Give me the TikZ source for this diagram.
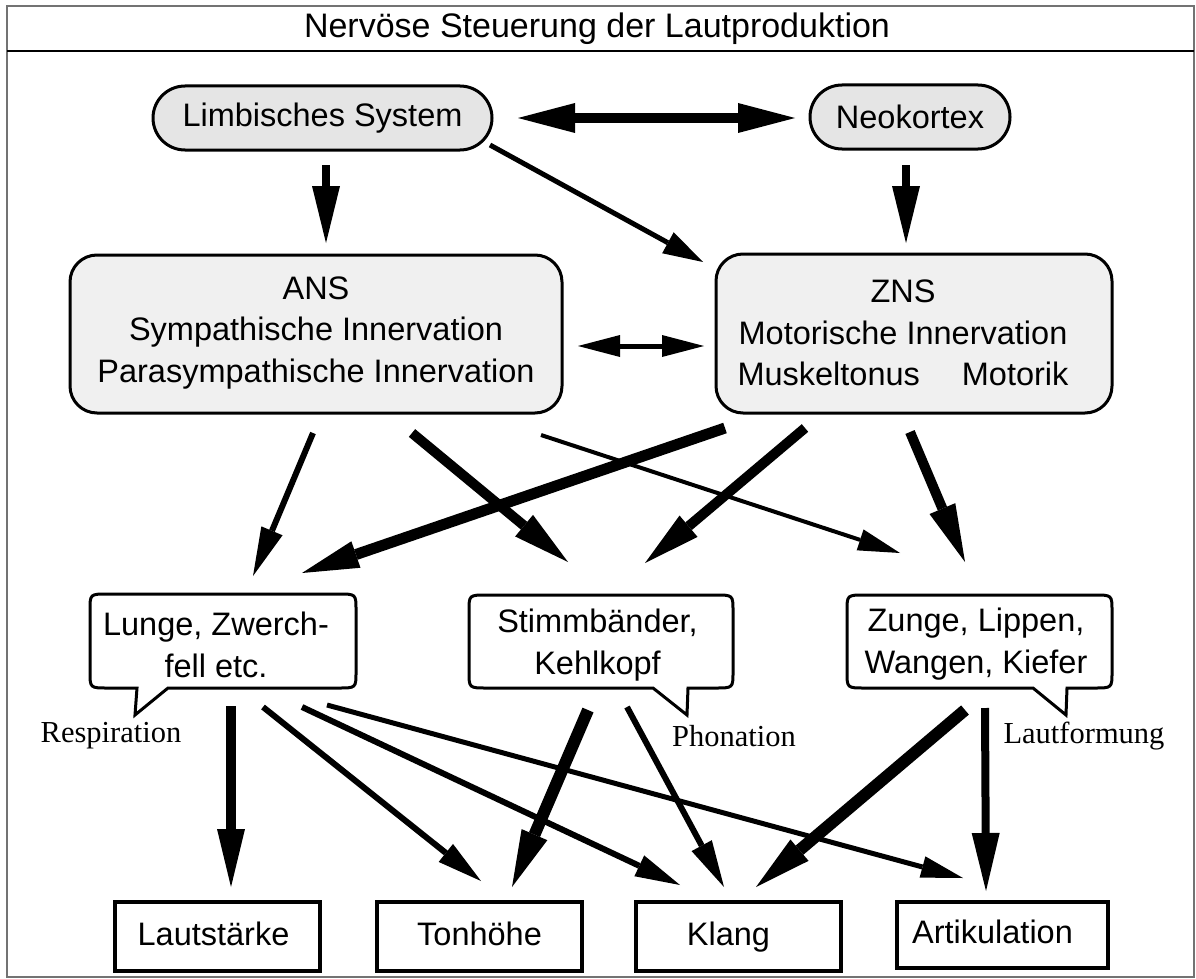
\documentclass[tikz,border=0pt]{standalone}
\usepackage{fontspec}
\setmainfont{Liberation Sans}
\newfontfamily\serifface{Liberation Serif}
\usetikzlibrary{arrows.meta}

\begin{document}
\begin{tikzpicture}[x=1pt,y=-1pt,
  txt/.style={font=\fontsize{32.5}{41.5}\selectfont},
  pill/.style={txt, draw, line width=3pt, fill=black!10, rounded corners=32pt,
    minimum height=64pt, inner sep=0pt},
  system/.style={draw, line width=3pt, fill=black!6, rounded corners=27pt, inner sep=0pt},
  systext/.style={txt, align=center, inner sep=0pt},
  bubbleline/.style={draw, line width=3pt, fill=white, line join=miter},
  bubbletext/.style={txt, align=center, inner sep=0pt},
  role/.style={font=\serifface\fontsize{30.5}{36}\selectfont, inner sep=0pt},
  result/.style={txt, draw, line width=4pt, fill=white, minimum width=205pt,
    minimum height=69pt, inner sep=0pt, text height=24pt, text depth=7pt},
  ar/.style n args={3}{line width=#1pt,
    -{Triangle[length=#2pt,width=#3pt,line width=0pt]}},
  dar/.style n args={3}{line width=#1pt,
    {Triangle[length=#2pt,width=#3pt,line width=0pt]}-{Triangle[length=#2pt,width=#3pt,line width=0pt]}},
]
\useasboundingbox (0,0) rectangle (1196,979);

% frame and title bar
\draw[line width=2pt, black!55] (7,6) rectangle (1194,977);
\draw[line width=2pt] (7,51) -- (1194,51);
\node[font=\fontsize{34}{40}\selectfont] (title) at (597,29) {Nervöse Steuerung der Lautproduktion};

% brain regions
\node[pill, minimum width=339pt] (limb) at (322.5,118) {Limbisches System};
\node[pill, minimum width=200pt] (neo) at (910,117) {Neokortex};

% nervous systems
\node[system, minimum width=492pt, minimum height=158pt] (ans) at (316,334) {};
\node[systext] (anstext) at (316,333) {ANS\\Sympathische Innervation\\Parasympathische Innervation};
\node[system, minimum width=396pt, minimum height=159pt] (zns) at (914,333.5) {};
\node[systext] (znstext) at (903,333) {ZNS\\Motorische Innervation\\\makebox[331pt]{Muskeltonus\hfill Motorik}};

% organs (speech bubbles)
\draw[bubbleline] (137,688) -- (135,715) -- (168,688) -- (338,688)
  .. controls (356,688) .. (356,672) -- (356,610)
  .. controls (356,594) .. (338,594) -- (108,594)
  .. controls (90,594) .. (90,610) -- (90,672)
  .. controls (90,688) .. (108,688) -- cycle;
\node[bubbletext] (lunge) at (216,645) {Lunge, Zwerch-\\fell etc.};

\draw[bubbleline] (653,688) -- (687,715) -- (688,688) -- (715,688)
  .. controls (733,688) .. (733,672) -- (733,611)
  .. controls (733,595) .. (715,595) -- (487,595)
  .. controls (469,595) .. (469,611) -- (469,672)
  .. controls (469,688) .. (487,688) -- cycle;
\node[bubbletext] (stimm) at (597.5,645) {Stimmbänder,\\Kehlkopf};

\draw[bubbleline] (1033,688) -- (1066,715) -- (1067,688) -- (1094,688)
  .. controls (1112,688) .. (1112,672) -- (1112,611)
  .. controls (1112,595) .. (1094,595) -- (865,595)
  .. controls (847,595) .. (847,611) -- (847,672)
  .. controls (847,688) .. (865,688) -- cycle;
\node[bubbletext] (zunge) at (976,644) {Zunge, Lippen,\\Wangen, Kiefer};

\node[role] (resp) at (111,736) {Respiration};
\node[role] (phon) at (734,736) {Phonation};
\node[role] (lautf) at (1084,736) {Lautformung};

% sound qualities
\node[result] (laut) at (217.5,936.5) {Lautstärke\hspace*{8pt}};
\node[result] (ton) at (479.5,936.5) {Tonhöhe};
\node[result] (klang) at (738.5,936.5) {Klang\hspace*{20pt}};
\node[result, minimum width=211pt, minimum height=66pt] (artik) at (1002.5,935) {Artikulation\hspace*{20pt}};

% connector end points
\coordinate (lnA) at (518,118);  \coordinate (lnB) at (795,118);
\coordinate (la1) at (326,165);  \coordinate (la2) at (326,243);
\coordinate (nz1) at (906,165);  \coordinate (nz2) at (906,243);
\coordinate (lz1) at (490,145);  \coordinate (lz2) at (703,262);
\coordinate (az1) at (578,346);  \coordinate (az2) at (704,346);
\coordinate (al1) at (313,433);  \coordinate (al2) at (253,576);
\coordinate (zl1) at (725,428);  \coordinate (zl2) at (302,573);
\coordinate (as1) at (412,433);  \coordinate (as2) at (568,562);
\coordinate (au1) at (541,435);  \coordinate (au2) at (900,553);
\coordinate (zs1) at (805,428);  \coordinate (zs2) at (645,563);
\coordinate (zu1) at (910,432);  \coordinate (zu2) at (965,562);
\coordinate (ll1) at (231,706);  \coordinate (ll2) at (231,887);
\coordinate (lt1) at (263,707);  \coordinate (lt2) at (481,881);
\coordinate (lk1) at (302,707);  \coordinate (lk2) at (680,885);
\coordinate (lr1) at (327,705);  \coordinate (lr2) at (963,878);
\coordinate (st1) at (588,710);  \coordinate (st2) at (512,887);
\coordinate (sk1) at (627,707);  \coordinate (sk2) at (724,887);
\coordinate (uk1) at (965,710);  \coordinate (uk2) at (756,887);
\coordinate (ur1) at (985,708);  \coordinate (ur2) at (986,891);

% connectors between the brain regions and the nervous systems
\draw[dar={10}{57}{30}] (lnA) -- (lnB);
\draw[ar={8}{57}{28}] (la1) -- (la2);
\draw[ar={8}{57}{28}] (nz1) -- (nz2);
\draw[ar={5}{40}{24}] (lz1) -- (lz2);
\draw[dar={5}{42}{22}] (az1) -- (az2);

% connectors to the organs
\draw[ar={6}{49}{23}] (al1) -- (al2);
\draw[ar={11}{57}{28}] (zl1) -- (zl2);
\draw[ar={10}{57}{28}] (as1) -- (as2);
\draw[ar={4}{42}{22}] (au1) -- (au2);
\draw[ar={10}{57}{28}] (zs1) -- (zs2);
\draw[ar={10}{58}{28}] (zu1) -- (zu2);

% connectors to the sound qualities
\draw[ar={10}{58}{28}] (ll1) -- (ll2);
\draw[ar={6}{45}{23}] (lt1) -- (lt2);
\draw[ar={6}{45}{23}] (lk1) -- (lk2);
\draw[ar={5}{42}{22}] (lr1) -- (lr2);
\draw[ar={12}{57}{28}] (st1) -- (st2);
\draw[ar={6}{47}{23}] (sk1) -- (sk2);
\draw[ar={12}{57}{28}] (uk1) -- (uk2);
\draw[ar={8}{58}{28}] (ur1) -- (ur2);
\end{tikzpicture}
\end{document}
